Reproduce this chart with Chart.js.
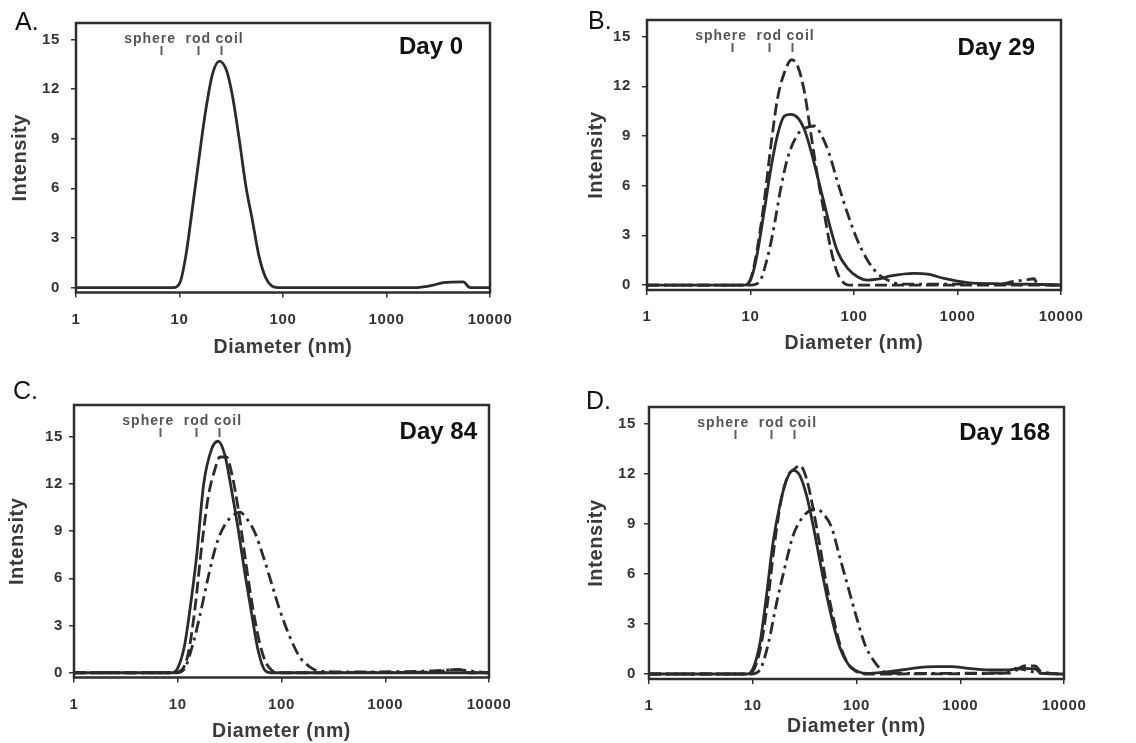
<!DOCTYPE html>
<html>
<head>
<meta charset="utf-8">
<script src="https://cdn.jsdelivr.net/npm/chart.js@4/dist/chart.umd.min.js"></script>
<style>
  body { margin: 0; background: #fff; }
  #wrap { position: relative; width: 1136px; height: 743px; }
  canvas { position: absolute; }
</style>
</head>
<body>
<div id="wrap">
  <canvas id="panelA" width="568" height="370" style="left:0;top:0"></canvas>
  <canvas id="panelB" width="568" height="370" style="left:568px;top:0"></canvas>
  <canvas id="panelC" width="568" height="373" style="left:0;top:370px"></canvas>
  <canvas id="panelD" width="568" height="373" style="left:568px;top:370px"></canvas>
</div>
<script>
// axis ticks and labels
const xTicks = [1, 10, 100, 1000, 10000];
const yTicks = [0, 3, 6, 9, 12, 15];
const yMaxes = [16, 16, 17, 16];
const yMin = -0.3;
const panelLetters = ['A.', 'B.', 'C.', 'D.'];
const dayLabels = ['Day 0', 'Day 29', 'Day 84', 'Day 168'];

// sphere / rod / coil reference diameters (nm)
const markerNames = ['sphere', 'rod', 'coil'];
const markerDiam = [6.7, 15, 25];
const markerTextDiam = [5.2, 15.2, 30.5];

// Day 0
const day0SolidD = [1, 8.7, 10.1, 11.5, 13.2, 15.2, 17.9, 20.8, 24.3, 28.6, 32.7, 37.9, 43.9, 50.5, 58.6, 68, 77.7, 90, 1960, 2830, 3540, 5500, 6430, 10000];
const day0SolidI = [0, 0, 0.3, 1.9, 4.6, 7.5, 10.7, 12.9, 13.7, 13.1, 11.5, 8.9, 6.1, 4.1, 1.9, 0.6, 0.1, 0, 0, 0.14, 0.3, 0.34, 0, 0];

// Day 29
const day29SolidD = [1, 8.7, 10, 11.3, 13.6, 15.8, 18.3, 21.2, 24.6, 28.6, 33.1, 38.4, 44.6, 51.7, 60, 69.5, 86.8, 108, 135, 169, 227, 380, 513, 744, 1250, 2630, 5000, 10000];
const day29SolidI = [0, 0, 0.3, 1.5, 4.5, 7.1, 9.1, 10.2, 10.3, 10.1, 9.4, 8.1, 6.5, 4.9, 3.3, 2.0, 1.0, 0.5, 0.3, 0.35, 0.55, 0.7, 0.66, 0.4, 0.15, 0.07, 0.05, 0];
const day29DashD = [1, 8.9, 10.2, 11.7, 13.6, 15.8, 18.3, 21.2, 25, 28.6, 33.1, 38.4, 44.6, 51.7, 60, 69.5, 80.7, 90, 10000];
const day29DashI = [0, 0, 0.5, 2.3, 5.1, 8.5, 11.3, 12.8, 13.6, 13.2, 11.7, 9.1, 6.5, 4.3, 2.1, 0.7, 0.1, 0, 0];
const day29DotD = [1, 10, 12.2, 14.1, 16.4, 19.7, 22.9, 28.6, 34.4, 41.4, 48, 57.8, 69.5, 86.8, 108, 135, 169, 211, 285, 2630, 3340, 4450, 5500, 5900, 10000];
const day29DotI = [0, 0, 0.2, 1.3, 3.1, 5.9, 7.7, 9.1, 9.5, 9.6, 9.1, 7.9, 6.2, 4.3, 2.7, 1.5, 0.7, 0.3, 0.06, 0.05, 0.2, 0.3, 0.38, 0.1, 0];

// Day 84
const day84SolidD = [1, 8.7, 10, 11.6, 13.1, 15.2, 17.8, 21.2, 24.5, 28.5, 33, 38.3, 44.4, 51.4, 59.6, 69, 80, 10000];
const day84SolidI = [0, 0, 0.3, 1.7, 4.0, 7.4, 12.0, 14.2, 14.7, 13.8, 11.6, 9.1, 6.3, 3.8, 1.4, 0.17, 0, 0];
const day84DashD = [1, 9, 10.9, 12.6, 14.6, 17, 19.7, 22.8, 25.5, 29.5, 33, 38.3, 44.4, 51.4, 59.6, 69, 80, 90, 3000, 4500, 5500, 6200, 10000];
const day84DashI = [0, 0, 0.17, 1.2, 4.0, 8.0, 11.2, 12.9, 13.7, 13.7, 12.7, 10.4, 7.4, 4.6, 2.3, 0.8, 0.17, 0, 0.05, 0.2, 0.2, 0, 0];
const day84DotD = [1, 9.7, 11.7, 14.1, 16.3, 19.7, 23.7, 28.5, 34.3, 39.8, 46, 55.4, 66.6, 80, 96, 120, 150, 187, 234, 500, 2900, 5250, 6000, 10000];
const day84DotI = [0, 0, 0.3, 1.9, 3.6, 6.1, 8.2, 9.4, 10.0, 10.2, 9.8, 8.9, 7.4, 5.7, 4.0, 2.3, 1.0, 0.38, 0.1, 0.05, 0.12, 0.2, 0.15, 0];

// Day 168
const day168SolidD = [1, 8.7, 10, 11.7, 13.5, 15.7, 18.2, 21.1, 24.5, 28.4, 33, 38.2, 44.3, 51.3, 59.6, 69, 83, 104, 129, 188, 270, 393, 569, 824, 1195, 1860, 2900, 3890, 5250, 6050, 10000];
const day168SolidI = [0, 0, 0.3, 1.8, 4.6, 7.9, 10.1, 11.6, 12.2, 11.9, 10.7, 8.9, 6.8, 4.8, 3.0, 1.6, 0.6, 0.14, 0.04, 0.12, 0.24, 0.38, 0.44, 0.44, 0.34, 0.24, 0.24, 0.34, 0.3, 0.04, 0];
const day168DashD = [1, 8.9, 10.4, 12.1, 14.1, 16.3, 18.9, 21.9, 25.4, 28.4, 33, 38.2, 44.3, 51.3, 59.6, 69, 83, 100, 120, 3000, 4170, 5250, 6050, 10000];
const day168DashI = [0, 0, 0.34, 1.8, 4.6, 7.9, 10.5, 11.9, 12.3, 12.5, 11.7, 9.9, 7.7, 5.4, 3.4, 1.8, 0.6, 0.14, 0, 0.05, 0.48, 0.48, 0.14, 0];
const day168DotD = [1, 9.7, 11.7, 14.1, 16.9, 20.4, 24.5, 29.5, 35.5, 41.1, 47.7, 57.4, 69, 83, 100, 120, 145, 174, 200, 2500, 3380, 4900, 6000, 10000];
const day168DotI = [0, 0, 0.24, 1.8, 4.2, 6.4, 8.3, 9.3, 9.8, 9.9, 9.6, 8.8, 7.0, 5.2, 3.4, 1.8, 0.84, 0.24, 0.04, 0.05, 0.34, 0.14, 0.05, 0];

const panelSeries = [
    [[day0SolidD, day0SolidI, 'solid']],
    [[day29SolidD, day29SolidI, 'solid'], [day29DashD, day29DashI, 'dash'], [day29DotD, day29DotI, 'dashdot']],
    [[day84SolidD, day84SolidI, 'solid'], [day84DashD, day84DashI, 'dash'], [day84DotD, day84DotI, 'dashdot']],
    [[day168SolidD, day168SolidI, 'solid'], [day168DashD, day168DashI, 'dash'], [day168DotD, day168DotI, 'dashdot']]
];

// pixel layout of each panel (plot box, text offsets)
const panelLayout = [
    { id: 'panelA', left: 76, top: 23, right: 490, bottom: 292.5, h: 370, yTitlePad: 8, xTitlePad: 11, yLabelPad: 11, letterX: 15, letterY: 23, dayRight: 27, dayY: 24 },
    { id: 'panelB', left: 79, top: 19, right: 493, bottom: 290, h: 370, yTitlePad: 16, xTitlePad: 15, yLabelPad: 11, letterX: 20, letterY: 22, dayRight: 26, dayY: 28 },
    { id: 'panelC', left: 74, top: 35, right: 489, bottom: 307.5, h: 373, yTitlePad: 5, xTitlePad: 0, yLabelPad: 6, letterX: 13, letterY: 22, dayRight: 12, dayY: 27 },
    { id: 'panelD', left: 81, top: 37, right: 496, bottom: 309, h: 373, yTitlePad: 16, xTitlePad: 5, yLabelPad: 8, letterX: 18, letterY: 32, dayRight: 14, dayY: 26 }
];

const dashStyles = { solid: [], dash: [12, 5], dashdot: [12, 5, 3, 5] };
const lineColor = '#2b2b2b';
const fontFamily = '"Liberation Sans", Arial, sans-serif';

// frame, sphere/rod/coil marks, panel letter and day label
const decorPlugin = {
    id: 'decor',
    beforeDraw(chart) {
        chart.ctx.letterSpacing = '0.6px';
    },
    beforeDatasetsDraw(chart, args, opts) {
        const { ctx, chartArea: a } = chart;
        const xs = chart.scales.x;
        ctx.save();
        ctx.strokeStyle = '#2e2e2e';
        ctx.lineWidth = 2.5;
        ctx.strokeRect(a.left, a.top, a.right - a.left, a.bottom - a.top);

        ctx.strokeStyle = '#606060';
        ctx.lineWidth = 2;
        markerDiam.forEach(d => {
            const x = Math.round(xs.getPixelForValue(d)) + 0.5;
            ctx.beginPath();
            ctx.moveTo(x, a.top + 23);
            ctx.lineTo(x, a.top + 32);
            ctx.stroke();
        });
        ctx.fillStyle = '#555';
        ctx.font = 'bold 14px ' + fontFamily;
        ctx.letterSpacing = '1px';
        ctx.textAlign = 'center';
        ctx.textBaseline = 'middle';
        markerNames.forEach((name, i) => {
            ctx.fillText(name, xs.getPixelForValue(markerTextDiam[i]), a.top + 16);
        });
        ctx.restore();
    },
    afterDraw(chart, args, opts) {
        const { ctx, chartArea: a } = chart;
        const L = opts.layout;
        ctx.save();
        ctx.letterSpacing = '0px';
        ctx.fillStyle = '#111';
        ctx.textBaseline = 'middle';
        ctx.font = '25px ' + fontFamily;
        ctx.textAlign = 'left';
        ctx.fillText(opts.letter, L.letterX, L.letterY);
        ctx.font = 'bold 24px ' + fontFamily;
        ctx.textAlign = 'right';
        ctx.fillText(opts.day, a.right - L.dayRight, a.top + L.dayY);
        ctx.restore();
    }
};

panelLayout.forEach((L, p) => {
    const ctx = document.getElementById(L.id);
    const datasets = panelSeries[p].map(([d, v, style]) => ({
        data: d.map((x, k) => ({ x: x, y: v[k] })),
        borderColor: lineColor,
        borderWidth: 2.8,
        borderDash: dashStyles[style],
        pointRadius: 0,
        fill: false,
        cubicInterpolationMode: 'monotone'
    }));

    new Chart(ctx, {
        type: 'line',
        data: { datasets: datasets },
        plugins: [decorPlugin],
        options: {
            responsive: false,
            animation: false,
            layout: { padding: { left: 0, top: L.top, right: 568 - L.right, bottom: 0 } },
            plugins: {
                legend: { display: false },
                tooltip: { enabled: false },
                decor: { letter: panelLetters[p], day: dayLabels[p], layout: L }
            },
            scales: {
                x: {
                    type: 'logarithmic',
                    min: 1,
                    max: 10000,
                    afterFit: s => { s.height = L.h - L.bottom; },
                    afterBuildTicks: s => { s.ticks = xTicks.map(v => ({ value: v })); },
                    border: { display: false },
                    grid: { drawOnChartArea: false, drawTicks: true, tickLength: 5, color: '#333', lineWidth: 1.5 },
                    ticks: {
                        color: '#333',
                        padding: 13,
                        maxRotation: 0,
                        font: { family: fontFamily, weight: 'bold', size: 15 },
                        callback: v => String(v)
                    },
                    title: {
                        display: true,
                        text: 'Diameter (nm)',
                        color: '#3a3a3a',
                        padding: { top: 0, bottom: L.xTitlePad },
                        font: { family: fontFamily, weight: 'bold', size: 19.5 }
                    }
                },
                y: {
                    min: yMin,
                    max: yMaxes[p],
                    afterFit: s => { s.width = L.left; },
                    afterBuildTicks: s => { s.ticks = yTicks.map(v => ({ value: v })); },
                    border: { display: false },
                    grid: { drawOnChartArea: false, drawTicks: true, tickLength: 5, color: '#333', lineWidth: 1.5 },
                    ticks: {
                        color: '#333',
                        padding: L.yLabelPad,
                        font: { family: fontFamily, weight: 'bold', size: 15 }
                    },
                    title: {
                        display: true,
                        text: 'Intensity',
                        color: '#3a3a3a',
                        padding: { top: L.yTitlePad, bottom: 0 },
                        font: { family: fontFamily, weight: 'bold', size: 20 }
                    }
                }
            }
        }
    });
});
</script>
</body>
</html>
